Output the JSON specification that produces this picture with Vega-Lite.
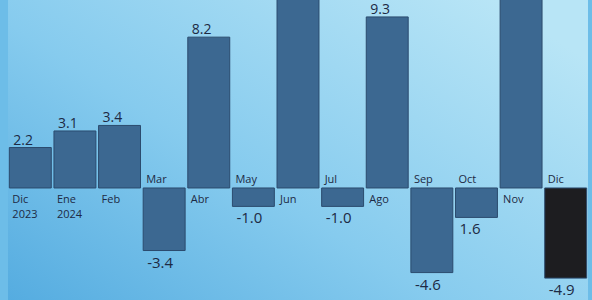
{
  "$schema": "https://vega.github.io/schema/vega-lite/v6.json",
  "width": 580,
  "height": 300,
  "padding": {"left": 8, "right": 4, "top": 0, "bottom": 0},
  "autosize": {"type": "none"},
  "background": "#6dbde8",
  "config": {
    "view": {
      "stroke": null,
      "fill": {"gradient": "linear", "x1": 0, "y1": 1, "x2": 1, "y2": 0.2, "stops": [{"offset": 0, "color": "#55ace0"}, {"offset": 0.45, "color": "#86cbee"}, {"offset": 1, "color": "#b8e5f6"}]}
    },
    "text": {"font": "Open Sans", "color": "#1d2a44"}
  },
  "data": {
    "values": [
      {"k": "Dic 2023", "mes": "Dic\n2023", "value": 2.2, "lab": "2.2", "hl": false},
      {"k": "Ene 2024", "mes": "Ene\n2024", "value": 3.1, "lab": "3.1", "hl": false},
      {"k": "Feb", "mes": "Feb", "value": 3.4, "lab": "3.4", "hl": false},
      {"k": "Mar", "mes": "Mar", "value": -3.4, "lab": "-3.4", "hl": false},
      {"k": "Abr", "mes": "Abr", "value": 8.2, "lab": "8.2", "hl": false},
      {"k": "May", "mes": "May", "value": -1.0, "lab": "-1.0", "hl": false},
      {"k": "Jun", "mes": "Jun", "value": 11.5, "lab": "", "hl": false},
      {"k": "Jul", "mes": "Jul", "value": -1.0, "lab": "-1.0", "hl": false},
      {"k": "Ago", "mes": "Ago", "value": 9.3, "lab": "9.3", "hl": false},
      {"k": "Sep", "mes": "Sep", "value": -4.6, "lab": "-4.6", "hl": false},
      {"k": "Oct", "mes": "Oct", "value": -1.6, "lab": "1.6", "hl": false},
      {"k": "Nov", "mes": "Nov", "value": 12.0, "lab": "", "hl": false},
      {"k": "Dic 2024", "mes": "Dic", "value": -4.9, "lab": "-4.9", "hl": true}
    ]
  },
  "encoding": {
    "x": {"field": "k", "type": "nominal", "sort": null, "axis": null, "bandPosition": 0, "scale": {"paddingInner": 0.06, "paddingOuter": 0.03}}
  },
  "layer": [
    {
      "mark": {"type": "bar", "clip": true, "stroke": "#2b4b6e", "strokeWidth": 1},
      "encoding": {
        "x": {"field": "k", "type": "nominal", "sort": null, "axis": null, "scale": {"paddingInner": 0.06, "paddingOuter": 0.03}},
        "y": {"field": "value", "type": "quantitative", "axis": null, "scale": {"domain": [-6.09, 10.22], "nice": false, "zero": false}},
        "fill": {"condition": {"test": "datum.hl", "value": "#1d1d20"}, "value": "#3c6891"}
      }
    },
    {
      "transform": [{"filter": "datum.value > 0"}],
      "mark": {"type": "text", "align": "left", "baseline": "alphabetic", "dx": 4, "dy": -3, "fontSize": 14, "fontWeight": 500},
      "encoding": {
        "y": {"field": "value", "type": "quantitative"},
        "text": {"field": "lab"}
      }
    },
    {
      "transform": [{"filter": "datum.value < 0"}],
      "mark": {"type": "text", "align": "left", "baseline": "top", "dx": 4, "dy": 5, "fontSize": 15},
      "encoding": {
        "y": {"field": "value", "type": "quantitative"},
        "text": {"field": "lab"},
        "fontWeight": {"condition": {"test": "datum.hl", "value": "bold"}, "value": 500}
      }
    },
    {
      "transform": [{"filter": "datum.value > 0"}],
      "mark": {"type": "text", "align": "left", "baseline": "top", "dx": 3, "dy": 6, "fontSize": 11, "fontWeight": 500, "lineBreak": "\n", "lineHeight": 15},
      "encoding": {
        "y": {"datum": 0, "type": "quantitative"},
        "text": {"field": "mes"}
      }
    },
    {
      "transform": [{"filter": "datum.value < 0"}],
      "mark": {"type": "text", "align": "left", "baseline": "bottom", "dx": 3, "dy": -3, "fontSize": 11, "fontWeight": 500},
      "encoding": {
        "y": {"datum": 0, "type": "quantitative"},
        "text": {"field": "mes"}
      }
    }
  ]
}
